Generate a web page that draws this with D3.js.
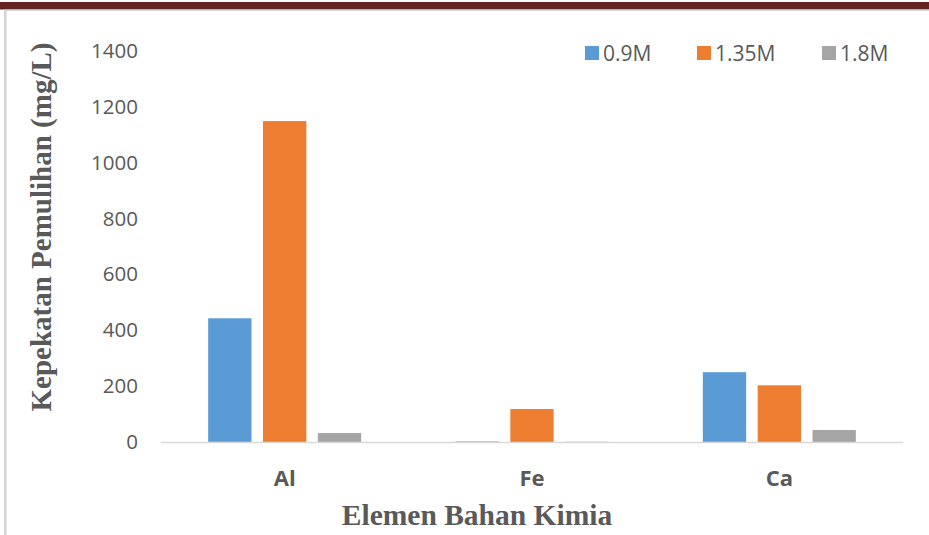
<!DOCTYPE html>
<html>
<head>
<meta charset="utf-8">
<script src="https://cdn.jsdelivr.net/npm/d3@7"></script>
<style>
  html, body { margin: 0; padding: 0; background: #fff; }
  svg { display: block; }
</style>
</head>
<body>
<svg id="chart" width="929" height="535"></svg>
<script>
// Recovery concentration per chemical element at three acid molarities
const categories = ["Al", "Fe", "Ca"];
const seriesNames = ["0.9M", "1.35M", "1.8M"];
const values09 = [443, 2, 250];
const values135 = [1149, 118, 203];
const values18 = [32, 1, 43];
const yTicks = [0, 200, 400, 600, 800, 1000, 1200, 1400];
const colors = ["#5B9BD5", "#ED7D31", "#A5A5A5"];

const series = [values09, values135, values18];

const svg = d3.select("#chart");
const W = 929, H = 535;

// page frame: dark band on top, thin grey rules
svg.append("rect").attr("x", 0).attr("y", 2).attr("width", W).attr("height", 7.5).attr("fill", "#632423");
svg.append("rect").attr("x", 4).attr("y", 9.5).attr("width", W - 4).attr("height", 1.5).attr("fill", "#d4d4d4");
svg.append("rect").attr("x", 4).attr("y", 10).attr("width", 2.5).attr("height", H - 10).attr("fill", "#d4d4d4");

const plot = { left: 161, right: 903, top: 51, bottom: 442 };

const x0 = d3.scaleBand().domain(categories).range([plot.left, plot.right]).paddingInner(0).paddingOuter(0);
const groupWidth = 153;
const x1 = d3.scaleBand().domain(seriesNames).range([0, groupWidth]).paddingInner(0.21).paddingOuter(0);
const y = d3.scaleLinear().domain([0, 1400]).range([plot.bottom, plot.top]);

const textColor = "#595959";
const sansFont = "'Open Sans', 'Liberation Sans', sans-serif";
const serifFont = "'Liberation Serif', 'DejaVu Serif', serif";

// y axis labels (no axis line)
const yAxis = d3.axisLeft(y).tickValues(yTicks).tickSize(0).tickPadding(0).tickFormat(d3.format("d"));
const yg = svg.append("g").attr("transform", `translate(${plot.left - 23},0)`).call(yAxis);
yg.select(".domain").remove();
yg.selectAll("text")
  .attr("fill", textColor)
  .style("font-family", sansFont)
  .style("font-size", "20.5px");

// bars
const groups = svg.append("g").selectAll("g")
  .data(categories)
  .join("g")
  .attr("transform", c => `translate(${x0(c) + x0.bandwidth() / 2 - groupWidth / 2},0)`);

groups.selectAll("rect")
  .data((c, i) => seriesNames.map((s, j) => ({ s, v: series[j][i], j })))
  .join("rect")
  .attr("x", d => x1(d.s))
  .attr("width", x1.bandwidth())
  .attr("y", d => y(d.v))
  .attr("height", d => y(0) - y(d.v))
  .attr("fill", d => colors[d.j]);

// x axis baseline
svg.append("line")
  .attr("x1", plot.left).attr("x2", plot.right)
  .attr("y1", plot.bottom + 0.5).attr("y2", plot.bottom + 0.5)
  .attr("stroke", "#d9d9d9").attr("stroke-width", 1.5);

// category labels
const xAxis = d3.axisBottom(x0).tickSize(0).tickPadding(0);
const xg = svg.append("g").attr("transform", `translate(0,486)`).call(xAxis);
xg.select(".domain").remove();
xg.selectAll("text")
  .attr("y", 0)
  .attr("dy", 0)
  .attr("fill", textColor)
  .style("font-family", sansFont)
  .style("font-size", "22px")
  .style("font-weight", "bold");

// axis titles
svg.append("text")
  .attr("x", 477).attr("y", 525)
  .attr("text-anchor", "middle")
  .attr("fill", textColor)
  .style("font-family", serifFont)
  .style("font-size", "29.5px")
  .style("font-weight", "bold")
  .text("Elemen Bahan Kimia");

svg.append("text")
  .attr("transform", "translate(51,227) rotate(-90)")
  .attr("text-anchor", "middle")
  .attr("fill", textColor)
  .style("font-family", serifFont)
  .style("font-size", "29px")
  .style("font-weight", "bold")
  .text("Kepekatan Pemulihan (mg/L)");

// legend
const legendX = [585, 697, 822];
const legend = svg.append("g").selectAll("g")
  .data(seriesNames)
  .join("g")
  .attr("transform", (d, i) => `translate(${legendX[i]},46)`);
legend.append("rect").attr("width", 14).attr("height", 14).attr("fill", (d, i) => colors[i]);
legend.append("text")
  .attr("x", 18).attr("y", 14.5)
  .attr("fill", textColor)
  .style("font-family", sansFont)
  .style("font-size", "21px")
  .text(d => d);
</script>
</body>
</html>
